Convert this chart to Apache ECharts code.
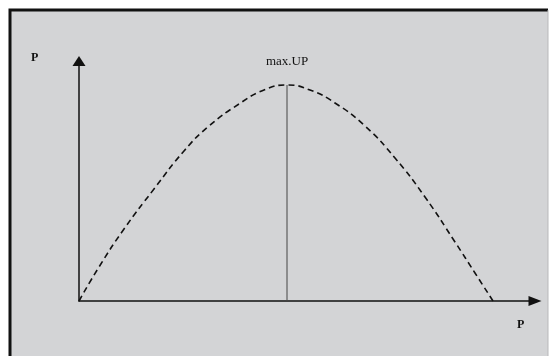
<!DOCTYPE html>
<html>
<head>
<meta charset="utf-8">
<script src="https://cdn.jsdelivr.net/npm/echarts@6/dist/echarts.min.js"></script>
<style>html,body{margin:0;padding:0;background:#fff;}#c{width:549px;height:356px;}</style>
</head>
<body>
<div id="c"></div>
<script>
// Curve (x = output-ish units, y = P units)
var curveX = [0, 20, 45, 75, 105, 130, 160, 185, 208, 231, 256, 286, 316, 346, 376, 396, 414];
var curveY = [0, 34, 72, 112, 150, 175, 197, 211, 216, 211, 198, 175, 143, 104, 59, 28, 0];
var peakX = 208;
var peakY = 216;
var yAxisLabel = 'P';
var xAxisLabel = 'P';
var peakLabel = 'max.UP';

var chart = echarts.init(document.getElementById('c'));
var pts = curveX.map(function (x, i) { return [x, curveY[i]]; });
chart.setOption({
  animation: false,
  backgroundColor: '#ffffff',
  graphic: [
    { type: 'rect', z: -10, shape: { x: 10, y: 10, width: 538, height: 346 }, style: { fill: '#d3d4d6' } },
    { type: 'polyline', z: -5, shape: { points: [[10, 356], [10, 10], [548, 10]] }, style: { stroke: '#111', lineWidth: 3, fill: null } },
    { type: 'line', z: -5, shape: { x1: 548, y1: 10, x2: 548, y2: 356 }, style: { stroke: '#b8b9bb', lineWidth: 1 } },
    { type: 'text', left: 31, top: 52, style: { text: yAxisLabel, fontFamily: '"Liberation Serif", serif', fontWeight: 'bold', fontSize: 12, fill: '#111' } },
    { type: 'text', left: 517, top: 319, style: { text: xAxisLabel, fontFamily: '"Liberation Serif", serif', fontWeight: 'bold', fontSize: 12, fill: '#111' } }
  ],
  grid: { left: 79, top: 61, width: 456, height: 240 },
  xAxis: {
    type: 'value', min: 0, max: 456,
    axisLine: { onZero: false, symbol: ['none', 'triangle'], symbolSize: [10, 13], lineStyle: { color: '#111', width: 1.5 } },
    axisTick: { show: false }, axisLabel: { show: false }, splitLine: { show: false }
  },
  yAxis: {
    type: 'value', min: 0, max: 240,
    axisLine: { onZero: false, symbol: ['none', 'triangle'], symbolSize: [13, 10], lineStyle: { color: '#111', width: 1.5 } },
    axisTick: { show: false }, axisLabel: { show: false }, splitLine: { show: false }
  },
  series: [
    {
      type: 'line', data: pts, smooth: 0.5, showSymbol: false,
      lineStyle: { color: '#111', width: 1.6, type: [6, 4] }
    },
    {
      type: 'line', data: [[peakX, 0], [peakX, peakY]], showSymbol: false,
      lineStyle: { color: '#444', width: 1 },
      markPoint: {
        symbol: 'circle', symbolSize: 0,
        data: [{ coord: [peakX, peakY], value: peakLabel }],
        label: { show: true, formatter: peakLabel, position: 'top', distance: 17, color: '#111', fontFamily: '"Liberation Serif", serif', fontSize: 13 }
      }
    }
  ]
});
</script>
</body>
</html>
